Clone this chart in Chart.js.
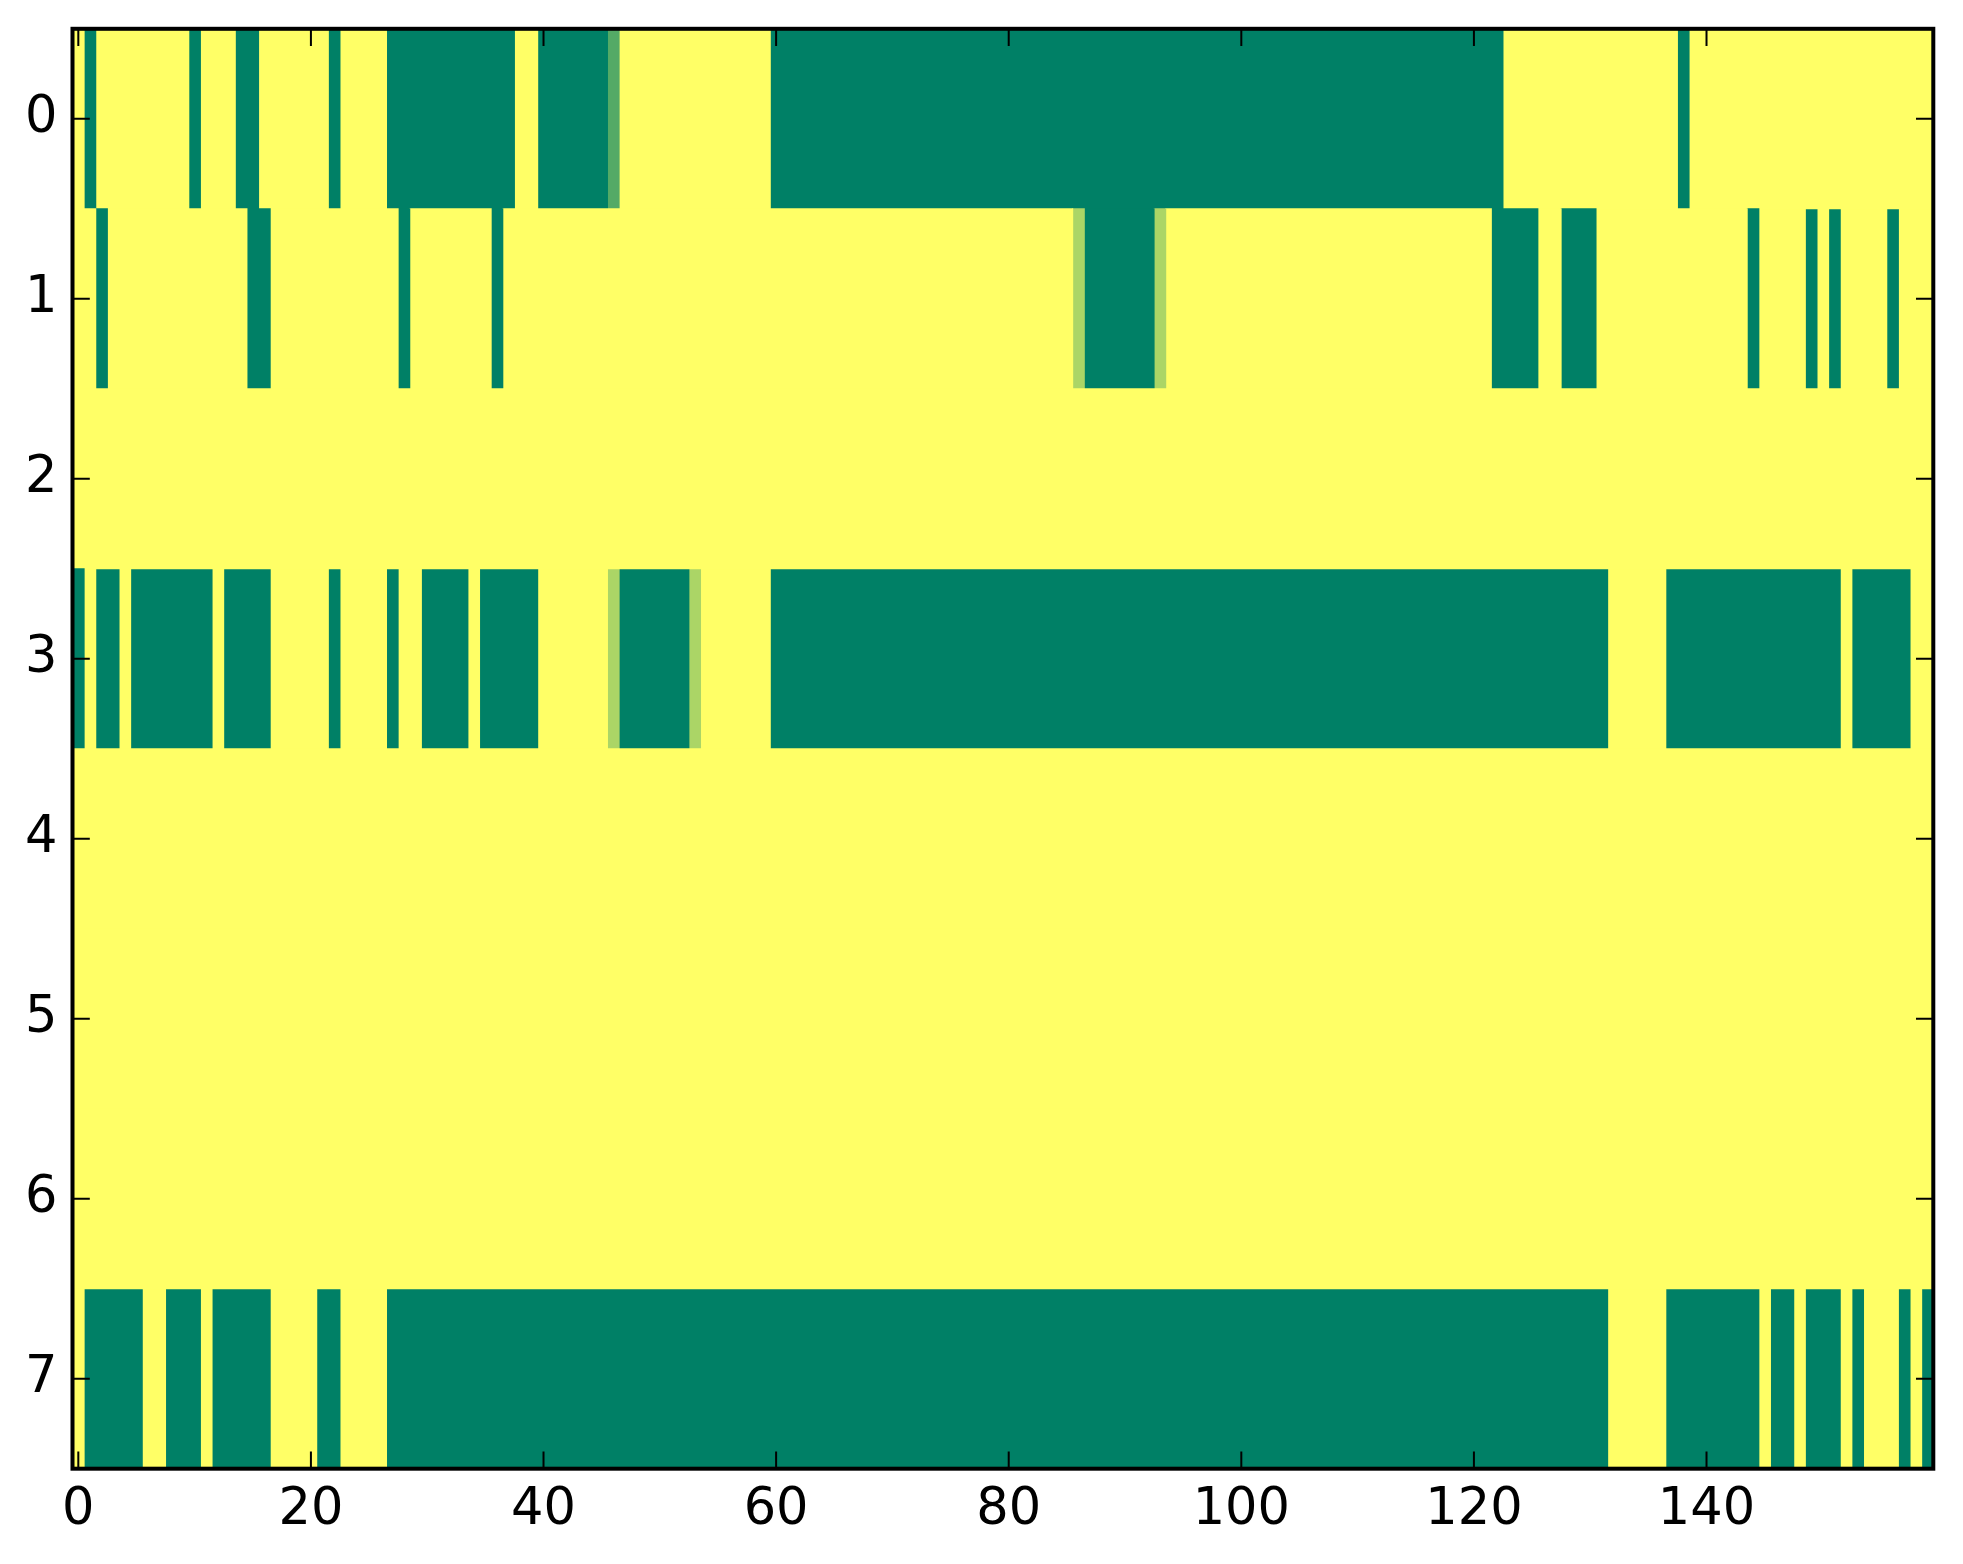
<!DOCTYPE html>
<html><head><meta charset="utf-8">
<script src="https://cdn.jsdelivr.net/npm/chart.js@4.4.0/dist/chart.umd.min.js"></script>
<style>html,body{margin:0;padding:0;background:#fff;overflow:hidden;} #wrap{width:1963px;height:1564px;}</style>
</head><body><div id="wrap"><canvas id="c" width="1963" height="1564"></canvas></div>
<script>
const rowLabels = ['0','1','2','3','4','5','6','7'];
const xTicks = [0,20,40,60,80,100,120,140];

const row0 = [
 1,0,1,1,1,1,1,1,1,1, 0,1,1,1,0,0,1,1,1,1,
 1,1,0,1,1,1,1,0,0,0, 0,0,0,0,0,0,0,0,1,1,
 0,0,0,0,0,0,0.33,1,1,1, 1,1,1,1,1,1,1,1,1,1,
 0,0,0,0,0,0,0,0,0,0, 0,0,0,0,0,0,0,0,0,0,
 0,0,0,0,0,0,0,0,0,0, 0,0,0,0,0,0,0,0,0,0,
 0,0,0,0,0,0,0,0,0,0, 0,0,0,0,0,0,0,0,0,0,
 0,0,0,1,1,1,1,1,1,1, 1,1,1,1,1,1,1,1,0,1,
 1,1,1,1,1,1,1,1,1,1, 1,1,1,1,1,1,1,1,1,1
];
const row1 = [
 1,1,0,1,1,1,1,1,1,1, 1,1,1,1,1,0,0,1,1,1,
 1,1,1,1,1,1,1,1,0,1, 1,1,1,1,1,1,0,1,1,1,
 1,1,1,1,1,1,1,1,1,1, 1,1,1,1,1,1,1,1,1,1,
 1,1,1,1,1,1,1,1,1,1, 1,1,1,1,1,1,1,1,1,1,
 1,1,1,1,1,1,0.67,0,0,0, 0,0,0,0.67,1,1,1,1,1,1,
 1,1,1,1,1,1,1,1,1,1, 1,1,1,1,1,1,1,1,1,1,
 1,1,0,0,0,0,1,1,0,0, 0,1,1,1,1,1,1,1,1,1,
 1,1,1,1,0,1,1,1,1,0, 1,0,1,1,1,1,0,1,1,1
];
const row2 = [
 1,1,1,1,1,1,1,1,1,1, 1,1,1,1,1,1,1,1,1,1,
 1,1,1,1,1,1,1,1,1,1, 1,1,1,1,1,1,1,1,1,1,
 1,1,1,1,1,1,1,1,1,1, 1,1,1,1,1,1,1,1,1,1,
 1,1,1,1,1,1,1,1,1,1, 1,1,1,1,1,1,1,1,1,1,
 1,1,1,1,1,1,1,1,1,1, 1,1,1,1,1,1,1,1,1,1,
 1,1,1,1,1,1,1,1,1,1, 1,1,1,1,1,1,1,1,1,1,
 1,1,1,1,1,1,1,1,1,1, 1,1,1,1,1,1,1,1,1,1,
 1,1,1,1,1,1,1,1,1,1, 1,1,1,1,1,1,1,1,1,1
];
const row3 = [
 0,1,0,0,1,0,0,0,0,0, 0,0,1,0,0,0,0,1,1,1,
 1,1,0,1,1,1,1,0,1,1, 0,0,0,0,1,0,0,0,0,0,
 1,1,1,1,1,1,0.67,0,0,0, 0,0,0,0.67,1,1,1,1,1,1,
 0,0,0,0,0,0,0,0,0,0, 0,0,0,0,0,0,0,0,0,0,
 0,0,0,0,0,0,0,0,0,0, 0,0,0,0,0,0,0,0,0,0,
 0,0,0,0,0,0,0,0,0,0, 0,0,0,0,0,0,0,0,0,0,
 0,0,0,0,0,0,0,0,0,0, 0,0,1,1,1,1,1,0,0,0,
 0,0,0,0,0,0,0,0,0,0, 0,0,1,0,0,0,0,0,1,1
];
const row4 = [
 1,1,1,1,1,1,1,1,1,1, 1,1,1,1,1,1,1,1,1,1,
 1,1,1,1,1,1,1,1,1,1, 1,1,1,1,1,1,1,1,1,1,
 1,1,1,1,1,1,1,1,1,1, 1,1,1,1,1,1,1,1,1,1,
 1,1,1,1,1,1,1,1,1,1, 1,1,1,1,1,1,1,1,1,1,
 1,1,1,1,1,1,1,1,1,1, 1,1,1,1,1,1,1,1,1,1,
 1,1,1,1,1,1,1,1,1,1, 1,1,1,1,1,1,1,1,1,1,
 1,1,1,1,1,1,1,1,1,1, 1,1,1,1,1,1,1,1,1,1,
 1,1,1,1,1,1,1,1,1,1, 1,1,1,1,1,1,1,1,1,1
];
const row5 = [
 1,1,1,1,1,1,1,1,1,1, 1,1,1,1,1,1,1,1,1,1,
 1,1,1,1,1,1,1,1,1,1, 1,1,1,1,1,1,1,1,1,1,
 1,1,1,1,1,1,1,1,1,1, 1,1,1,1,1,1,1,1,1,1,
 1,1,1,1,1,1,1,1,1,1, 1,1,1,1,1,1,1,1,1,1,
 1,1,1,1,1,1,1,1,1,1, 1,1,1,1,1,1,1,1,1,1,
 1,1,1,1,1,1,1,1,1,1, 1,1,1,1,1,1,1,1,1,1,
 1,1,1,1,1,1,1,1,1,1, 1,1,1,1,1,1,1,1,1,1,
 1,1,1,1,1,1,1,1,1,1, 1,1,1,1,1,1,1,1,1,1
];
const row6 = [
 1,1,1,1,1,1,1,1,1,1, 1,1,1,1,1,1,1,1,1,1,
 1,1,1,1,1,1,1,1,1,1, 1,1,1,1,1,1,1,1,1,1,
 1,1,1,1,1,1,1,1,1,1, 1,1,1,1,1,1,1,1,1,1,
 1,1,1,1,1,1,1,1,1,1, 1,1,1,1,1,1,1,1,1,1,
 1,1,1,1,1,1,1,1,1,1, 1,1,1,1,1,1,1,1,1,1,
 1,1,1,1,1,1,1,1,1,1, 1,1,1,1,1,1,1,1,1,1,
 1,1,1,1,1,1,1,1,1,1, 1,1,1,1,1,1,1,1,1,1,
 1,1,1,1,1,1,1,1,1,1, 1,1,1,1,1,1,1,1,1,1
];
const row7 = [
 1,0,0,0,0,0,1,1,0,0, 0,1,0,0,0,0,0,1,1,1,
 1,0,0,1,1,1,1,0,0,0, 0,0,0,0,0,0,0,0,0,0,
 0,0,0,0,0,0,0,0,0,0, 0,0,0,0,0,0,0,0,0,0,
 0,0,0,0,0,0,0,0,0,0, 0,0,0,0,0,0,0,0,0,0,
 0,0,0,0,0,0,0,0,0,0, 0,0,0,0,0,0,0,0,0,0,
 0,0,0,0,0,0,0,0,0,0, 0,0,0,0,0,0,0,0,0,0,
 0,0,0,0,0,0,0,0,0,0, 0,0,1,1,1,1,1,0,0,0,
 0,0,0,0,0,1,0,0,1,0, 0,0,1,0,1,1,1,0,1,0
];
const rows = [row0,row1,row2,row3,row4,row5,row6,row7];

// matplotlib "summer" colormap
function summer(v){
  return 'rgb(' + Math.round(255*v) + ',' + Math.round(255*(0.5+0.5*v)) + ',102)';
}

// merge consecutive equal cells of each row into runs
const runsPerRow = rows.map(r => {
  const runs = []; let s = 0;
  for (let i = 1; i <= r.length; i++) {
    if (i === r.length || r[i] !== r[s]) { runs.push({start:s, end:i-1, v:r[s]}); s = i; }
  }
  return runs;
});
const maxRuns = Math.max(...runsPerRow.map(r => r.length));
const datasets = [];
for (let k = 0; k < maxRuns; k++) {
  datasets.push({
    data: runsPerRow.map(rr => rr[k] ? [rr[k].start - 0.5, rr[k].end + 0.5] : null),
    backgroundColor: runsPerRow.map(rr => rr[k] ? summer(rr[k].v) : 'rgba(0,0,0,0)'),
    borderWidth: 0,
    borderSkipped: false,
    inflateAmount: 0.5,
    categoryPercentage: 1,
    barPercentage: 1,
    grouped: false
  });
}

const framePlugin = {
  id: 'frame',
  afterDraw(chart) {
    const ctx = chart.ctx, a = chart.chartArea, x = chart.scales.x, y = chart.scales.y;
    const tl = 17.3;
    ctx.save();
    ctx.strokeStyle = '#000';
    ctx.lineWidth = 2;
    ctx.beginPath();
    xTicks.forEach(v => {
      const px = x.getPixelForValue(v);
      ctx.moveTo(px, a.bottom); ctx.lineTo(px, a.bottom - tl);
      ctx.moveTo(px, a.top); ctx.lineTo(px, a.top + tl);
    });
    rowLabels.forEach((l, i) => {
      const py = y.getPixelForValue(i);
      ctx.moveTo(a.left, py); ctx.lineTo(a.left + tl, py);
      ctx.moveTo(a.right, py); ctx.lineTo(a.right - tl, py);
    });
    ctx.stroke();
    ctx.lineWidth = 4;
    ctx.strokeRect(a.left, a.top, a.right - a.left, a.bottom - a.top);
    ctx.restore();
  }
};

const tickFont = {family: 'DejaVu Sans', size: 51};

new Chart(document.getElementById('c'), {
  type: 'bar',
  data: {labels: rowLabels, datasets: datasets},
  options: {
    indexAxis: 'y',
    responsive: false,
    animation: false,
    devicePixelRatio: 1,
    layout: {autoPadding: false, padding: {left: 0, top: 28.8, right: 29.7, bottom: 0}},
    plugins: {legend: {display: false}, tooltip: {enabled: false}},
    scales: {
      x: {
        type: 'linear', min: -0.5, max: 159.5, position: 'bottom',
        grid: {display: false, drawTicks: false},
        border: {display: false},
        ticks: {font: tickFont, color: '#000', padding: 11, maxRotation: 0, autoSkip: false},
        afterBuildTicks: s => { s.ticks = xTicks.map(v => ({value: v})); },
        afterFit: s => { s.height = 95.3; s.paddingLeft = 0; s.paddingRight = 0; s.paddingTop = 0; s.paddingBottom = 0; }
      },
      y: {
        type: 'category',
        grid: {display: false, drawTicks: false},
        border: {display: false},
        ticks: {font: tickFont, color: '#000', padding: 15, autoSkip: false},
        afterFit: s => { s.width = 72.5; s.paddingLeft = 0; s.paddingRight = 0; s.paddingTop = 0; s.paddingBottom = 0; }
      }
    }
  },
  plugins: [framePlugin]
});
</script>
</body></html>
